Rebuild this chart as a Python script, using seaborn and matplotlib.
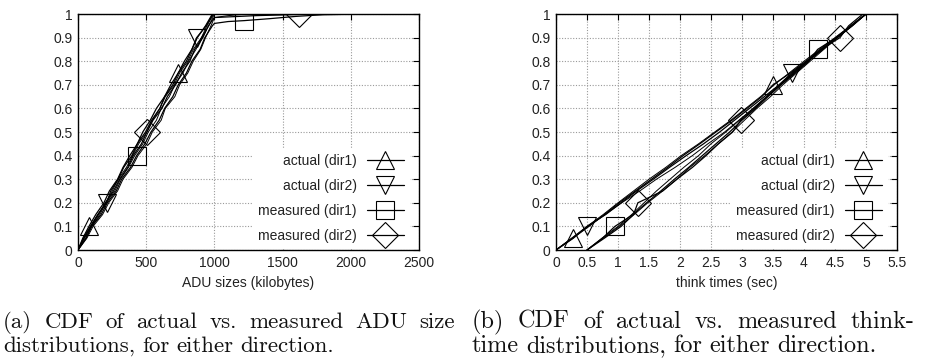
import numpy as np
import pandas as pd
import matplotlib
matplotlib.use('Agg')
import matplotlib.pyplot as plt
import seaborn as sns

# ---- left panel: ADU sizes (kilobytes) ----
adu_cdf = [0.0, 0.05, 0.10, 0.15, 0.20, 0.25, 0.30, 0.35, 0.40, 0.45, 0.50,
           0.55, 0.60, 0.65, 0.70, 0.75, 0.80, 0.85, 0.90, 0.95, 1.0]
adu_act1_a = [0, 35, 80, 130, 190, 230, 290, 330, 380, 435, 475, 530, 575, 635, 680, 735, 780, 835, 875, 935, 985]
adu_act1_b = [0, 45, 95, 145, 205, 250, 295, 355, 400, 445, 505, 545, 600, 640, 705, 745, 805, 845, 905, 945, 995]
adu_act2_a = [0, 40, 90, 145, 210, 240, 295, 335, 395, 435, 495, 540, 600, 635, 695, 735, 795, 835, 870, 940, 990]
adu_act2_b = [0, 55, 100, 160, 205, 270, 310, 370, 415, 475, 515, 575, 610, 670, 710, 770, 810, 865, 905, 960, 1000]

adu_meas_cdf1 = [0.0, 0.05, 0.10, 0.15, 0.20, 0.25, 0.30, 0.35, 0.40, 0.45, 0.50,
                 0.55, 0.60, 0.65, 0.70, 0.75, 0.80, 0.85, 0.90, 0.95,
                 0.96, 0.968, 0.972, 0.98, 0.99, 0.997, 0.999, 1.0]
adu_meas1 = [0, 60, 100, 170, 215, 280, 320, 385, 430, 490, 535, 595, 635, 695, 735, 795, 835, 895, 930, 985,
             1000, 1100, 1220, 1400, 1600, 1800, 2000, 2230]
adu_meas_cdf2 = [0.0, 0.05, 0.10, 0.15, 0.20, 0.25, 0.30, 0.35, 0.40, 0.45, 0.50,
                 0.55, 0.60, 0.65, 0.70, 0.75, 0.80, 0.85, 0.90, 0.95,
                 0.985, 0.993, 0.998, 1.0]
adu_meas2 = [0, 45, 95, 150, 200, 260, 305, 365, 405, 465, 505, 550, 615, 655, 715, 760, 820, 855, 915, 955,
             1000, 1300, 1620, 1870]
adu_meas2_b = [0, 65, 110, 180, 225, 290, 330, 395, 440, 505, 545, 610, 640, 710, 745, 805, 845, 900, 935, 975,
               1000, 1100, 1200, 1300]

# ---- right panel: think times (sec) ----
think_cdf = [0.0, 0.05, 0.10, 0.15, 0.20, 0.25, 0.30, 0.35, 0.40, 0.45, 0.50,
             0.55, 0.60, 0.65, 0.70, 0.75, 0.80, 0.85, 0.90, 0.95, 1.0]
think_act1_a = [0, 0.27, 0.53, 0.78, 1.02, 1.28, 1.54, 1.80, 2.05, 2.32, 2.58, 2.84, 3.08, 3.32, 3.50, 3.78, 4.03, 4.27, 4.52, 4.76, 5.0]
think_act1_b = [0, 0.25, 0.50, 0.76, 1.00, 1.25, 1.50, 1.77, 2.02, 2.30, 2.56, 2.82, 3.06, 3.30, 3.52, 3.76, 4.00, 4.25, 4.50, 4.75, 5.0]
think_act2_a = [0, 0.28, 0.50, 0.80, 1.05, 1.30, 1.57, 1.83, 2.10, 2.38, 2.64, 2.88, 3.12, 3.36, 3.60, 3.80, 4.05, 4.30, 4.54, 4.78, 5.0]
think_act2_b = [0, 0.26, 0.52, 0.79, 1.06, 1.35, 1.62, 1.92, 2.20, 2.45, 2.72, 2.95, 3.18, 3.40, 3.62, 3.84, 4.07, 4.30, 4.53, 4.77, 5.0]
think_meas1_a = [0.5, 0.75, 0.95, 1.24, 1.46, 1.69, 1.91, 2.14, 2.36, 2.58, 2.80, 3.00, 3.22, 3.42, 3.63, 3.86, 4.08, 4.22, 4.52, 4.76, 5.0]
think_meas1_b = [0.5, 0.76, 1.02, 1.26, 1.48, 1.72, 1.95, 2.16, 2.40, 2.62, 2.84, 3.04, 3.24, 3.46, 3.66, 3.88, 4.10, 4.32, 4.54, 4.78, 5.0]
think_meas2_a = [0.5, 0.78, 1.05, 1.25, 1.32, 1.72, 1.95, 2.20, 2.42, 2.62, 2.85, 2.98, 3.20, 3.40, 3.60, 3.82, 4.05, 4.28, 4.58, 4.72, 4.95]
think_meas2_b = [0.5, 0.74, 1.00, 1.22, 1.42, 1.62, 1.84, 2.06, 2.30, 2.50, 2.74, 2.96, 3.18, 3.40, 3.62, 3.84, 4.06, 4.30, 4.52, 4.76, 5.0]

labels = ['actual (dir1)', 'actual (dir2)', 'measured (dir1)', 'measured (dir2)']

caption_lines = ['(a) CDF of actual vs. measured ADU size',
                 'distributions, for either direction.',
                 '(b) CDF of actual vs. measured think-',
                 'time distributions, for either direction.']

sns.set_theme(style="whitegrid")
plt.rcParams['font.family'] = ['Liberation Sans', 'DejaVu Sans']
plt.rcParams['font.size'] = 10

W, H = 928, 358
fig = plt.figure(figsize=(W / 100, H / 100), dpi=100)
ax1 = fig.add_axes([78/W, 1-250/H, 341/W, 236/H])
ax2 = fig.add_axes([556/W, 1-250/H, 341/W, 236/H])

mk = dict(markersize=13, markerfacecolor='none', markeredgecolor='black', markeredgewidth=0.8)


def curve(ax, xs, ys, marker=None, every=None, label=None, lw=0.9):
    kw = dict(color='black', lw=lw)
    if marker is not None:
        kw.update(mk)
        kw['marker'] = marker
        kw['markevery'] = every
    sns.lineplot(x=xs, y=ys, sort=False, estimator=None, ax=ax, label=label, legend=False, **kw)


# left
curve(ax1, adu_act1_b, adu_cdf, lw=0.7)
curve(ax1, adu_act2_b, adu_cdf, lw=0.7)
curve(ax1, adu_meas2_b, adu_meas_cdf2, lw=0.7)
curve(ax1, adu_act1_a, adu_cdf, '^', [2, 15], labels[0])
curve(ax1, adu_act2_a, adu_cdf, 'v', [4, 18], labels[1])
curve(ax1, adu_meas1, adu_meas_cdf1, 's', [8, 22], labels[2])
curve(ax1, adu_meas2, adu_meas_cdf2, 'D', [10, 22], labels[3])

# right
curve(ax2, think_act1_b, think_cdf, lw=0.7)
curve(ax2, think_act2_b, think_cdf, lw=0.7)
curve(ax2, think_meas1_b, think_cdf, lw=0.7)
curve(ax2, think_meas2_b, think_cdf, lw=0.7)
curve(ax2, think_act1_a, think_cdf, '^', [1, 14], labels[0])
curve(ax2, think_act2_a, think_cdf, 'v', [2, 15], labels[1])
curve(ax2, think_meas1_a, think_cdf, 's', [2, 17], labels[2])
curve(ax2, think_meas2_a, think_cdf, 'D', [4, 11, 18], labels[3])

for ax, xmax, step, xlabel in [(ax1, 2500, 500, 'ADU sizes (kilobytes)'),
                               (ax2, 5.5, 0.5, 'think times (sec)')]:
    ax.set_xlim(0, xmax)
    ax.set_ylim(0, 1)
    xt = np.arange(0, xmax + step / 2, step)
    ax.set_xticks(xt)
    ax.set_xticklabels(['%g' % v for v in xt])
    yt = np.arange(0, 1.05, 0.1)
    ax.set_yticks(yt)
    ax.set_yticklabels(['%g' % round(v, 1) for v in yt])
    ax.set_xlabel(xlabel, labelpad=5, fontsize=10, color='#222222')
    ax.set_ylabel('')
    ax.set_facecolor('white')
    ax.grid(True, color='#9a9a9a', lw=0.8, linestyle=(0, (1, 1.5)))
    for s in ax.spines.values():
        s.set_color('black')
        s.set_linewidth(1.0)
        s.set_visible(True)
    ax.tick_params(direction='in', length=4, width=0.8, color='black', top=True, right=True,
                   labelsize=10, pad=4, labelcolor='#222222')
    leg = ax.legend(loc='lower right', bbox_to_anchor=(1 - 8/341, 0.0), markerfirst=False,
                    handlelength=2.7, labelspacing=0.8, borderaxespad=0.1, frameon=True,
                    fontsize=10, handletextpad=0.7)
    leg.get_frame().set_facecolor('white')
    leg.get_frame().set_edgecolor('none')
    leg.get_frame().set_alpha(1)
    for t in leg.get_texts():
        t.set_color('#222222')

# captions, first lines justified word by word like the LaTeX subcaptions
# (x start px, x end px or None, baseline px, font size)
caption_layout = [(3, 455, 328, 16.5), (3, None, 352, 16.5),
                  (472, 914, 328, 17.5), (472, None, 352, 17.5)]
renderer = fig.canvas.get_renderer()
for text, (x0, x1, yb, fs) in zip(caption_lines, caption_layout):
    cap = dict(fontsize=fs, family=['cmr10', 'DejaVu Serif'], va='baseline', ha='left', color='#111111')
    words = text.split(' ')
    arts = [fig.text(0, 1 - yb / H, w, **cap) for w in words]
    widths = [a.get_window_extent(renderer).width for a in arts]
    space = 0.3 * fs * 100 / 72
    if x1 is not None:
        space = max(space, (x1 - x0 - sum(widths)) / (len(words) - 1))
    x = x0
    for a, w in zip(arts, widths):
        a.set_x(x / W)
        x += w + space

fig.savefig('out.png', dpi=100)
